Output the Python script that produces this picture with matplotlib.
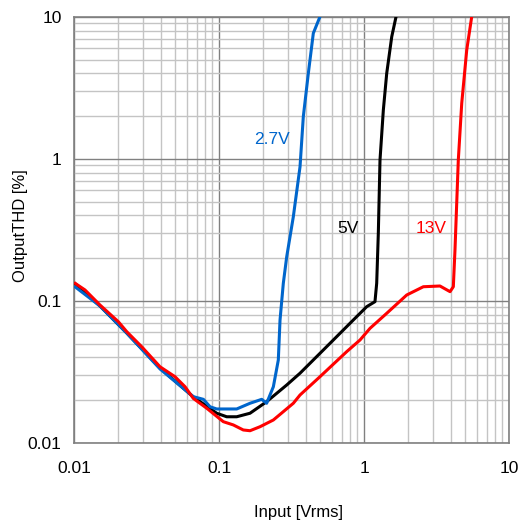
import numpy as np
import matplotlib
matplotlib.use('Agg')
import matplotlib.pyplot as plt
import matplotlib.ticker as ticker

plt.rcParams['font.family'] = ['Liberation Sans', 'DejaVu Sans']

# 2.7V
x_27 = [0.0102, 0.0151, 0.0231, 0.0392, 0.0665, 0.078, 0.0867, 0.0964, 0.1324, 0.1636,
        0.197, 0.213, 0.237, 0.2564, 0.2635, 0.2776, 0.293, 0.3254, 0.362, 0.3814, 0.413, 0.447, 0.497]
y_27 = [0.1255, 0.0922, 0.0595, 0.0332, 0.0212, 0.0203, 0.018, 0.01736, 0.01736, 0.01904,
        0.0203, 0.01904, 0.0249, 0.0384, 0.0735, 0.1333, 0.205, 0.392, 0.883, 1.99, 4.01, 7.68, 10.05]

# 5V
x_5 = [0.0102, 0.0151, 0.0231, 0.0392, 0.0665, 0.0964, 0.113, 0.1324, 0.1636, 0.213, 0.293,
       0.362, 0.497, 0.614, 0.844, 1.044, 1.19, 1.223, 1.255, 1.289, 1.359, 1.434, 1.553, 1.663]
y_5 = [0.132, 0.0922, 0.0595, 0.0337, 0.0211, 0.0162, 0.0153, 0.0153, 0.0162, 0.01954, 0.02561,
       0.031, 0.0428, 0.0531, 0.0735, 0.0912, 0.0989, 0.1333, 0.30, 0.984, 2.21, 4.01, 7.26, 10.05]

# 13V
x_13 = [0.0102, 0.0119, 0.0151, 0.0202, 0.0231, 0.0293, 0.0392, 0.0497, 0.0583, 0.0665, 0.0823,
        0.107, 0.1255, 0.147, 0.1636, 0.1918, 0.237, 0.3254, 0.362, 0.497, 0.76, 0.938, 1.1,
        1.434, 1.97, 2.565, 3.34, 3.92, 4.13, 4.24, 4.47, 4.72, 5.11, 5.53]
y_13 = [0.133, 0.1196, 0.0937, 0.0715, 0.0608, 0.0476, 0.0344, 0.0293, 0.0249, 0.0206, 0.01756,
        0.01413, 0.0134, 0.01235, 0.0122, 0.01302, 0.01452, 0.01904, 0.02178, 0.0293, 0.044, 0.0531,
        0.0642, 0.0819, 0.1102, 0.126, 0.1275, 0.1163, 0.126, 0.229, 0.984, 2.47, 5.86, 10.05]

ticks = [0.01, 0.1, 1, 10]
tick_labels = ['0.01', '0.1', '1', '10']

fig = plt.figure(figsize=(5.31, 5.24), dpi=100)
ax = fig.add_axes([0.1394, 0.1546, 0.8192, 0.8130])

ax.plot(x_5, y_5, color='black', linewidth=2.2, zorder=3)
ax.plot(x_27, y_27, color='#0066CC', linewidth=2.2, zorder=4)
ax.plot(x_13, y_13, color='#FF0000', linewidth=2.2, zorder=5)

ax.set_xscale('log')
ax.set_yscale('log')
ax.set_xlim(0.01, 10)
ax.set_ylim(0.01, 10)

ax.xaxis.set_major_locator(ticker.FixedLocator(ticks))
ax.yaxis.set_major_locator(ticker.FixedLocator(ticks))
ax.xaxis.set_major_formatter(ticker.FixedFormatter(tick_labels))
ax.yaxis.set_major_formatter(ticker.FixedFormatter(tick_labels))
ax.xaxis.set_minor_locator(ticker.LogLocator(base=10, subs=np.arange(2, 10)))
ax.yaxis.set_minor_locator(ticker.LogLocator(base=10, subs=np.arange(2, 10)))
ax.xaxis.set_minor_formatter(ticker.NullFormatter())
ax.yaxis.set_minor_formatter(ticker.NullFormatter())

ax.grid(True, which='major', color='#808080', linewidth=1.0)
ax.grid(True, which='minor', color='#c4c4c4', linewidth=1.0)
ax.set_axisbelow(True)

ax.tick_params(which='both', length=0, labelsize=12.5)
ax.tick_params(axis='x', pad=13)
ax.tick_params(axis='y', pad=9)
for s in ax.spines.values():
    s.set_color('#808080')
    s.set_linewidth(1.2)

ax.set_xlabel('Input [Vrms]', fontsize=12)
ax.set_ylabel('OutputTHD [%]', fontsize=12)
ax.xaxis.set_label_coords(0.517, -0.145)
ax.yaxis.set_label_coords(-0.106, 0.51)

ax.text(0.232, 1.38, '2.7V', color='#0066CC', fontsize=12.5, ha='center', va='center')
ax.text(0.776, 0.324, '5V', color='black', fontsize=12.5, ha='center', va='center')
ax.text(2.90, 0.324, '13V', color='#FF0000', fontsize=12.5, ha='center', va='center')

plt.savefig('out.png', dpi=100)
